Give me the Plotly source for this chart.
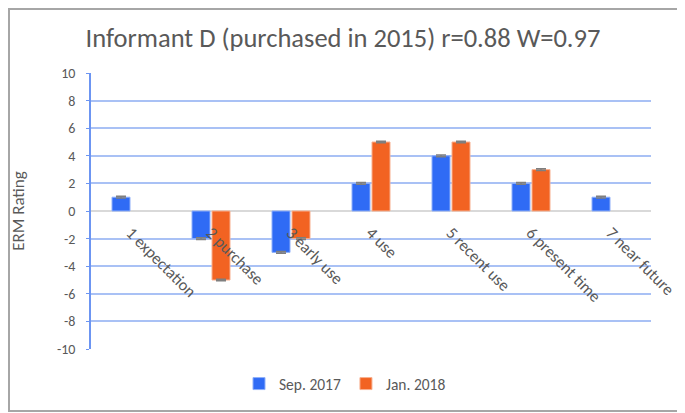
import plotly.graph_objects as go

categories = ["1 expectation", "2 purchase", "3 early use", "4 use", "5 recent use", "6 present time", "7 near future"]
sep_2017 = [1, -2, -3, 2, 4, 2, 1]
jan_2018 = [None, -5, -2, 5, 5, 3, None]
sep_err = [0.06, 0.06, 0.06, 0.06, 0.06, 0.06, 0.06]
jan_err = [0.06, 0.06, 0.06, 0.06, 0.06, 0.06, 0.06]
y_ticks = [-10, -8, -6, -4, -2, 0, 2, 4, 6, 8, 10]
y_tick_labels = ["-10", "-8", "-6", "-4", "-2", "0", "2", "4", "6", "8", "10"]

FONT = "Calibri, Carlito, Lato, sans-serif"
GRAY = "#595959"
W, H = 677, 405  # page adds an 8px body margin

fig = go.Figure()
fig.add_trace(go.Bar(
    name="Sep. 2017", x=categories, y=sep_2017,
    marker=dict(color="#2F6BF5", line=dict(color="#8FB0FA", width=1)),
    error_y=dict(type="data", array=sep_err, color="#7f7f7f", thickness=1.5, width=5),
))
fig.add_trace(go.Bar(
    name="Jan. 2018", x=categories, y=jan_2018,
    marker=dict(color="#F26322", line=dict(color="#F8B08F", width=1)),
    error_y=dict(type="data", array=jan_err, color="#7f7f7f", thickness=1.5, width=5),
))

fig.update_layout(
    width=W, height=H,
    margin=dict(l=83, r=34, t=65, b=64, autoexpand=False),
    paper_bgcolor="white", plot_bgcolor="white",
    barmode="group", bargap=0.5, bargroupgap=0.1,
    font=dict(family=FONT, color=GRAY, size=14),
    title=dict(text="Informant D (purchased in 2015) r=0.88 W=0.97",
               x=335 / W, xref="container", xanchor="center",
               y=1 - 30 / H, yref="container", yanchor="middle",
               font=dict(size=26.5, color=GRAY, family=FONT)),
    legend=dict(orientation="h", x=337 / W, xref="container", xanchor="center",
                y=1 - 376 / H, yref="container", yanchor="middle",
                font=dict(size=15.5, color=GRAY), itemwidth=30, traceorder="normal"),
    showlegend=True,
    shapes=[dict(type="rect", xref="paper", yref="paper",
                 x0=-82 / 560, x1=1 + 30 / 560, y0=-62 / 276, y1=1 + 64 / 276,
                 line=dict(color="#a6a6a6", width=2), fillcolor="rgba(0,0,0,0)", layer="below")],
)
fig.update_yaxes(
    range=[-10, 10], tickmode="array", tickvals=y_ticks, ticktext=y_tick_labels,
    showgrid=True, gridcolor="#A9C1F5", gridwidth=1.5,
    zeroline=True, zerolinecolor="#D9D9D9", zerolinewidth=2,
    showline=True, linecolor="#6C95F2", linewidth=1.5,
    ticks="outside", ticklen=3, tickcolor="#6C95F2", automargin=False,
    ticklabelstandoff=8,
    title=dict(text="ERM Rating", font=dict(size=17, color=GRAY), standoff=45),
    tickfont=dict(size=14, color=GRAY),
)
fig.update_xaxes(
    anchor="free", position=0.5, tickangle=45, showline=False, showgrid=False,
    ticks="", tickfont=dict(size=16.5, color=GRAY), automargin=False,
    ticklabelstandoff=8,
)
fig.write_html("out.html")
